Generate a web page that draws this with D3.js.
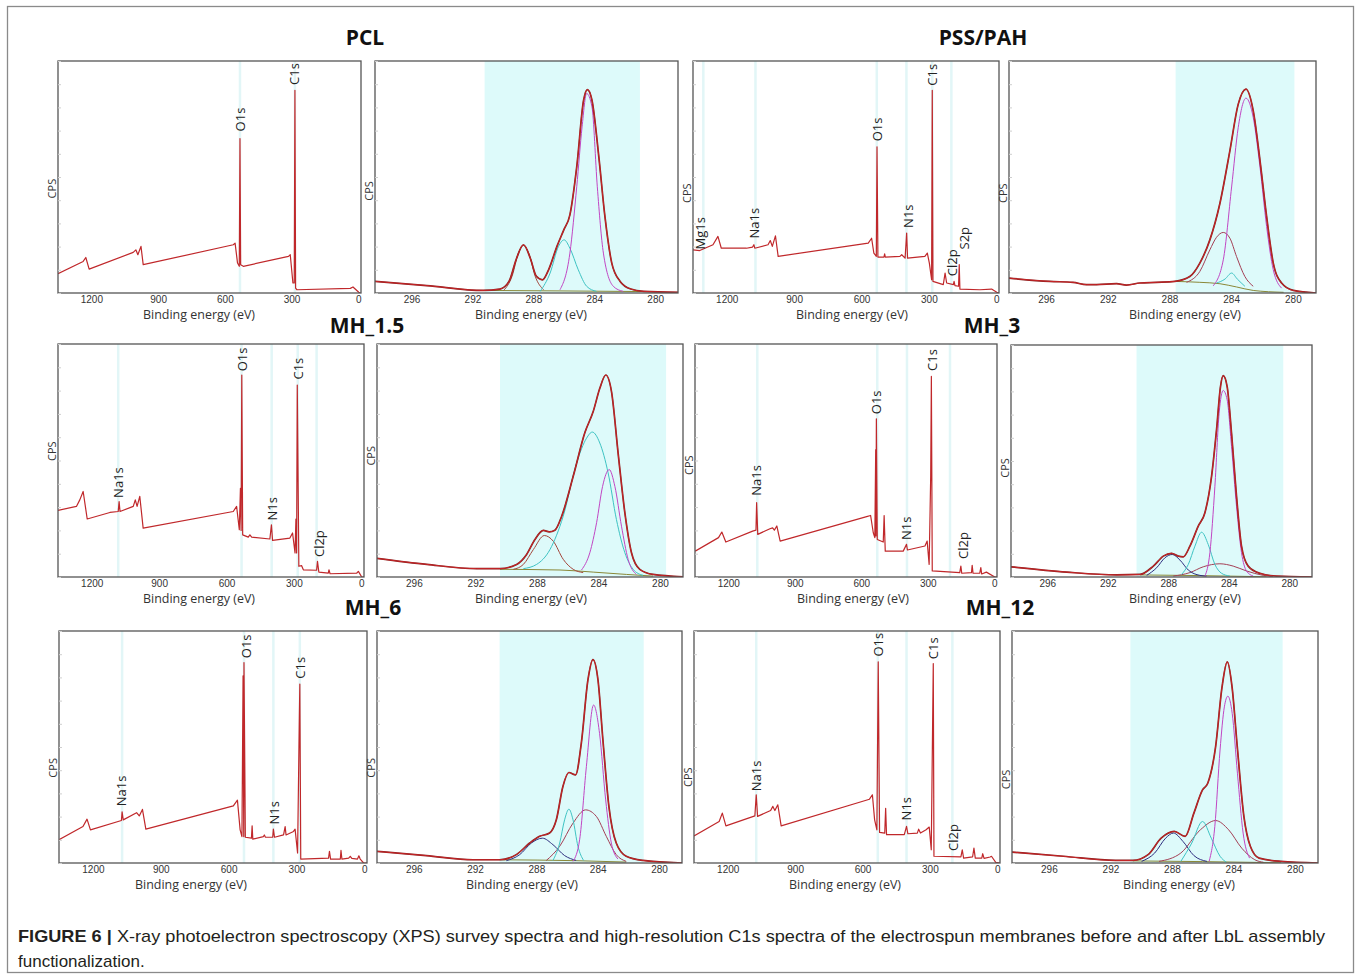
<!DOCTYPE html>
<html>
<head>
<meta charset="utf-8">
<script src="https://cdn.jsdelivr.net/npm/d3@7"></script>
<style>
  body { margin: 0; background: #fff; }
  svg { display: block; }
</style>
</head>
<body>
<div id="figure"></div>
<script>
// ---- data (x = binding energy in eV, y = CPS as % of panel height) ----
const sampleNames = ["PCL", "PSS/PAH", "MH_1.5", "MH_3", "MH_6", "MH_12"];
const surveyTicks = [1200, 900, 600, 300, 0];
const c1sTicks = [296, 292, 288, 284, 280];

// survey spectra
const surveyPCL = [[1350,8.3],[1237,13.6],[1225,15.3],[1210,10.3],[1012,17.5],[1000,18.6],[991,16.5],[977,20.1],[967,12.2],[562,20.8],[554,21.5],[543,12.9],[535,11.5],[532,66.6],[529,12.2],[517,11.5],[314,15.8],[306,16.5],[294,4.3],[288,4.3],[285,87.4],[282,2.1],[276,1.4],[36,2.0],[24,2.6],[-2,0.3],[-9,0]];
const surveyPSS = [[1350,18.6],[1320,18.3],[1261,20.8],[1239,24.4],[1224,19.3],[1112,19.3],[1085,19.8],[1079,20.8],[1075,19.3],[1016,20.8],[1006,22.6],[997,20.1],[983,24.6],[971,15.8],[570,21.5],[555,23.6],[545,17.2],[534,15.8],[531,63.0],[527,15.5],[500,15.5],[497,16.9],[494,15.5],[429,15.8],[421,16.5],[406,15.0],[399,25.8],[395,15.0],[318,15.8],[307,17.2],[298,12.9],[288,5.7],[285,87.4],[282,5.0],[236,3.6],[228,8.6],[221,4.3],[191,3.6],[188,5.0],[184,3.2],[168,2.9],[165,12.2],[162,1.7],[73,1.4],[21,1.7],[-2,0.3],[-12,0]];
const surveyMH15 = [[1350,28.6],[1268,30.3],[1253,33.1],[1238,36.7],[1220,24.9],[1119,27.7],[1082,28.1],[1078,32.4],[1074,28.1],[1015,30.3],[1006,33.1],[998,30.3],[986,34.6],[971,21.0],[570,28.1],[555,30.3],[543,20.3],[538,38.1],[535,20.0],[532,86.7],[528,18.1],[503,17.1],[496,18.1],[488,17.1],[407,16.3],[400,22.4],[395,15.7],[318,16.7],[306,18.9],[295,10.3],[291,24.9],[288,10.3],[285,82.4],[278,4.6],[266,4.9],[258,3.1],[199,2.9],[195,6.7],[189,2.1],[147,1.7],[144,3.1],[139,1.4],[20,1.7],[13,2.4],[-2,0],[-12,0]];
const surveyMH3 = [[1349,11.1],[1244,16.9],[1229,19.3],[1211,15.0],[1090,19.7],[1075,20.1],[1072,31.9],[1067,18.3],[1012,20.7],[1000,21.1],[992,20.1],[981,21.9],[966,15.4],[576,25.9],[558,26.4],[546,19.0],[539,16.9],[535,54.7],[534,17.6],[532,67.9],[528,16.1],[501,15.0],[497,26.4],[492,11.1],[411,11.1],[396,14.0],[392,11.6],[313,13.3],[303,15.4],[294,5.4],[287,43.3],[284,86.1],[280,2.6],[156,1.9],[151,4.7],[147,1.6],[103,1.9],[100,5.0],[96,1.6],[66,1.6],[61,4.0],[57,1.3],[36,2.1],[-2,0],[-12,0]];
const surveyMH6 = [[1350,10.0],[1244,15.7],[1226,18.9],[1211,14.3],[1074,18.3],[1071,22.1],[1066,18.6],[1007,21.7],[995,20.3],[981,23.1],[966,14.6],[579,24.6],[561,27.1],[549,14.3],[541,11.4],[536,80.7],[533,11.4],[532,86.4],[526,11.1],[499,10.7],[496,16.0],[493,10.3],[446,11.4],[442,12.1],[437,11.1],[405,11.1],[402,14.6],[397,11.1],[357,12.1],[350,15.7],[346,12.1],[313,13.6],[306,14.6],[295,4.3],[287,64.3],[285,77.1],[281,1.7],[158,2.1],[154,5.0],[149,1.7],[106,1.7],[103,5.4],[99,1.7],[69,2.1],[62,2.9],[55,2.0],[30,1.7],[24,3.1],[18,1.7],[3,0],[-12,0]];
const surveyMH12 = [[1350,11.7],[1238,17.9],[1224,21.5],[1208,16.0],[1079,20.3],[1073,29.4],[1067,20.1],[1009,22.6],[999,24.4],[990,22.6],[977,25.1],[962,16.0],[569,27.5],[556,29.4],[546,18.6],[536,14.3],[530,86.7],[524,13.2],[501,12.9],[497,23.6],[493,12.2],[414,12.2],[404,15.8],[398,12.6],[356,12.9],[350,14.6],[342,12.9],[317,14.3],[303,15.5],[294,5.7],[285,86.0],[282,2.9],[162,2.6],[156,5.7],[150,2.1],[110,2.6],[104,6.4],[98,2.1],[69,2.1],[65,4.0],[59,2.0],[32,2.6],[26,2.9],[7,0.3],[-12,0]];

// peak labels: [text, eV, y%]
const labelsPCL = [["O1s",532,68.8],["C1s",285,88.8]];
const labelsPSS = [["Mg1s",1317,17.9],["Na1s",1075,22.6],["O1s",530,64.5],["N1s",392,27.2],["C1s",283,88.5],["Cl2p",194,6.4],["S2p",144,17.9]];
const labelsMH15 = [["Na1s",1082,33.1],["O1s",530,87.4],["N1s",395,23.4],["C1s",281,83.9],["Cl2p",187,7.7]];
const labelsMH3 = [["Na1s",1075,34.0],["O1s",531,69.0],["N1s",396,15.0],["C1s",277,87.6],["Cl2p",141,6.9]];
const labelsMH6 = [["Na1s",1074,23.6],["O1s",523,87.4],["N1s",399,15.7],["C1s",281,78.6]];
const labelsMH12 = [["Na1s",1073,30.1],["O1s",530,88.1],["N1s",404,17.5],["C1s",284,87.0],["Cl2p",195,4.3]];

// element marker lines (eV)
const stripesPCL = [532, 285];
const stripesPSS = [1304, 1072, 532, 400, 285, 200];
const stripesMH15 = [1082, 533, 399, 283, 199];
const stripesMH3 = [1069, 528, 394, 200];
const stripesMH6 = [1071, 532, 402, 285];
const stripesMH12 = [1073, 532, 404, 200];

// C1s fit windows [from, to] eV
const fitWindows = [[291.2,281.0],[287.6,279.9],[290.4,279.6],[290.1,280.4],[290.4,281.0],[290.7,280.8]];

// C1s high resolution spectra
const c1sPCL_raw = [[298.4,5.0],[295.0,3.2],[291.3,1.1],[290.2,1.7],[289.6,5.0],[289.1,15.0],[288.65,20.8],[288.2,15.0],[287.8,7.2],[287.4,5.7],[287.0,10.0],[286.45,20.1],[286.0,27.2],[285.6,33.7],[285.15,54.4],[284.7,83.1],[284.45,87.7],[284.15,83.1],[283.7,58.7],[283.3,33.0],[282.85,12.9],[282.3,5.0],[281.6,1.7],[280.75,0.7],[278.5,0.3]];
const c1sPCL_cc = [[286.25,1.4],[285.6,17.2],[285.15,45.8],[284.8,71.6],[284.5,86.0],[284.15,80.2],[283.8,45.8],[283.4,17.2],[282.75,2.9],[282.1,0.7]];
const c1sPCL_co = [[287.55,0.7],[286.9,8.6],[286.35,20.1],[285.975,22.9],[285.6,19.3],[285.05,10.0],[284.5,2.9],[283.85,0.7]];
const c1sPCL_oco = [[289.95,1.1],[289.4,7.2],[288.98,17.2],[288.65,20.5],[288.3,17.2],[287.88,7.2],[287.33,1.4]];
const c1sPCL_bg = [[291.1,1.1],[286.25,0.9],[280.55,0.6]];

const c1sPSS_raw = [[298.4,6.4],[295.76,5.0],[294.25,4.6],[293.38,3.6],[292.73,3.6],[291.43,4.0],[290.79,3.4],[289.92,4.3],[288.84,4.6],[287.65,5.0],[286.68,7.1],[286.03,12.9],[285.38,22.9],[284.73,38.6],[284.08,61.4],[283.54,81.4],[283.04,87.9],[282.57,78.6],[282.13,57.1],[281.7,32.9],[281.27,12.9],[280.73,4.3],[279.97,1.1],[278.5,0]];
const c1sPSS_cc = [[285.16,3.1],[284.51,14.3],[283.97,45.7],[283.54,71.4],[283.04,84.0],[282.57,75.7],[282.13,54.3],[281.7,28.6],[281.27,10.0],[280.73,2.1]];
const c1sPSS_cn = [[286.89,4.6],[286.03,9.3],[285.38,18.6],[284.95,24.0],[284.51,26.1],[284.08,23.6],[283.65,15.7],[283.11,7.1],[282.57,2.9]];
const c1sPSS_co = [[284.95,4.3],[284.4,6.0],[283.97,8.6],[283.6,6.0],[283.11,2.9]];
const c1sPSS_bg = [[287.65,5.0],[286.03,4.6],[284.73,4.0],[283.65,2.6],[282.57,1.1],[280.6,0.3]];

const c1sMH15_raw = [[298.4,8.0],[295.16,5.4],[291.91,3.6],[290.4,3.6],[289.32,5.4],[288.67,9.7],[288.13,16.1],[287.58,20.0],[287.2,19.4],[286.83,20.1],[286.39,26.1],[285.64,43.2],[284.88,62.0],[284.34,71.0],[283.91,81.0],[283.52,86.7],[283.15,79.6],[282.72,53.2],[282.28,27.5],[281.85,10.4],[281.31,3.3],[280.45,1.1],[278.5,0.1]];
const c1sMH15_co = [[288.88,3.6],[288.02,5.4],[287.15,11.8],[286.29,26.1],[285.42,48.9],[284.77,59.6],[284.4,62.2],[283.91,57.5],[283.37,44.7],[282.83,24.7],[282.28,10.4],[281.74,3.3],[281.1,0.7]];
const c1sMH15_cc = [[285.1,3.0],[284.56,10.4],[284.12,23.3],[283.73,38.9],[283.3,46.1],[282.93,38.9],[282.5,21.8],[282.07,7.6],[281.53,1.1]];
const c1sMH15_oco = [[289.53,3.3],[288.88,5.4],[288.23,11.8],[287.52,17.8],[286.94,15.4],[286.29,7.6],[285.64,3.3],[284.99,1.9]];
const c1sMH15_bg = [[290.4,3.3],[286.5,3.0],[284.34,2.1],[282.18,1.1],[280.45,0.4]];

const c1sMH3_raw = [[298.4,4.4],[294.71,2.1],[291.41,0.9],[289.87,1.1],[288.99,4.7],[288.33,9.0],[287.78,10.2],[287.34,9.0],[287.01,8.7],[286.57,13.3],[286.02,21.9],[285.58,27.7],[285.14,43.4],[284.81,63.5],[284.55,82.1],[284.37,86.8],[284.11,82.1],[283.82,62.0],[283.49,34.8],[283.16,13.3],[282.72,4.7],[281.95,1.6],[280.85,0.4],[278.5,0]];
const c1sMH3_cc = [[285.58,0.4],[285.25,10.5],[284.92,39.1],[284.64,70.6],[284.37,80.4],[284.11,76.4],[283.82,56.3],[283.49,30.5],[283.16,10.5],[282.83,2.6],[282.39,0.4]];
const c1sMH3_co = [[287.12,1.1],[286.68,5.4],[286.24,13.3],[285.8,19.3],[285.36,14.0],[284.92,5.4],[284.48,1.6],[283.93,0.4]];
const c1sMH3_oco = [[289.43,0.7],[288.77,4.0],[288.22,8.3],[287.74,9.7],[287.23,7.3],[286.68,3.0],[285.91,0.7],[285.47,0.4]];
const c1sMH3_broad = [[287.67,0.4],[286.57,1.9],[285.69,4.4],[284.59,5.7],[283.71,4.7],[282.83,2.6],[281.73,0.7],[281.07,0.1]];
const c1sMH3_bg = [[289.87,0.9],[285.91,0.6],[281.51,0.1]];

const c1sMH6_raw = [[298.4,5.0],[295.18,3.2],[292.14,1.4],[290.4,1.4],[289.31,3.6],[288.44,8.6],[287.79,11.5],[287.14,12.9],[286.7,18.6],[286.27,33.0],[285.88,39.0],[285.44,38.0],[285.07,51.6],[284.64,78.8],[284.31,87.7],[283.98,78.8],[283.66,53.0],[283.27,24.4],[282.79,8.6],[282.14,2.9],[281.05,1.1],[278.5,0]];
const c1sMH6_cc = [[285.61,0.7],[285.18,10.0],[284.74,41.5],[284.27,68.1],[283.88,55.9],[283.48,27.2],[283.11,8.6],[282.68,1.7]];
const c1sMH6_broad = [[287.35,1.1],[286.48,7.2],[285.61,17.2],[284.79,22.9],[284.09,20.1],[283.44,11.5],[282.79,3.6],[282.14,0.7]];
const c1sMH6_co = [[286.92,1.1],[286.48,8.6],[286.16,18.6],[285.88,23.2],[285.61,18.6],[285.29,7.2],[284.92,1.1]];
const c1sMH6_oco = [[289.96,1.0],[289.09,3.6],[288.33,8.6],[287.61,10.7],[286.92,7.9],[286.16,3.2],[285.4,1.1]];
const c1sMH6_bg = [[290.4,1.4],[285.4,1.0],[282.14,0.4]];

const c1sMH12_raw = [[298.4,4.7],[295.07,2.9],[291.67,1.1],[290.54,1.1],[289.55,3.6],[288.7,10.7],[287.85,13.6],[287.14,11.5],[286.57,21.5],[286.01,31.5],[285.67,34.4],[285.16,50.1],[284.74,75.9],[284.4,86.7],[284.09,75.9],[283.75,50.1],[283.32,20.1],[282.9,7.2],[282.33,2.1],[280.92,0.7],[278.5,0]];
const c1sMH12_cc = [[285.58,0.7],[285.21,15.8],[284.87,48.7],[284.59,67.3],[284.36,71.9],[284.08,64.5],[283.74,38.7],[283.37,12.9],[282.95,2.1]];
const c1sMH12_broad = [[288.84,0.7],[287.42,4.3],[286.15,14.3],[285.16,18.3],[284.31,14.3],[283.46,6.4],[282.61,1.4],[282.04,0.3]];
const c1sMH12_co = [[287.42,0.7],[286.71,8.6],[286.01,17.9],[285.44,10.7],[284.87,2.9],[284.45,0.3]];
const c1sMH12_oco = [[289.97,0.7],[289.12,4.3],[288.41,10.7],[287.9,12.9],[287.28,9.3],[286.57,3.2],[285.72,0.7]];
const c1sMH12_bg = [[290.54,0.9],[286.0,0.6],[280.9,0.1]];

// ---- layout ----
const width = 1360, height = 978;
const col = {
  cc: "#c146c4", co: "#3ec3c3", oco: "#a4473c", broad: "#a43f55",
  navy: "#2f2f80", bg: "#8a8838", raw: "#d8262a", env: "#86201f",
  survey: "#c0282b", band: "#ddfafa", stripe: "#e2f6f7"
};

// [x0, x1, y0, y1] boxes for survey and C1s panels of each sample
const surveyBoxes = [[58,361,61,293],[693,999,61,293],[58,364,344,577],[695,997,344,577],[59,367,631,863],[694,1000,631,863]];
const c1sBoxes = [[375,678,61,293],[1009,1316,61,293],[377,683,344,577],[1011,1312,345,577],[377,682,631,863],[1012,1318,631,863]];
const titlePos = [[365,45],[983,45],[367,333],[992,333],[373,615],[1000,615]];
const surveyXLabel = [199, 852, 199, 853, 191, 845];
const c1sXLabel = [531, 1185, 531, 1185, 522, 1179];
const surveyCps = [0.55, 0.57, 0.46, 0.52, 0.59, 0.63];
const c1sCps = [0.56, 0.57, 0.48, 0.53, 0.59, 0.64];

const surveySets = [
  {data: surveyPCL, labels: labelsPCL, stripes: stripesPCL},
  {data: surveyPSS, labels: labelsPSS, stripes: stripesPSS},
  {data: surveyMH15, labels: labelsMH15, stripes: stripesMH15},
  {data: surveyMH3, labels: labelsMH3, stripes: stripesMH3},
  {data: surveyMH6, labels: labelsMH6, stripes: stripesMH6},
  {data: surveyMH12, labels: labelsMH12, stripes: stripesMH12}
];
const c1sSets = [
  {raw: c1sPCL_raw, bg: c1sPCL_bg, comps: [[c1sPCL_oco, col.oco], [c1sPCL_co, col.co], [c1sPCL_cc, col.cc]]},
  {raw: c1sPSS_raw, bg: c1sPSS_bg, comps: [[c1sPSS_cn, col.broad], [c1sPSS_co, col.co], [c1sPSS_cc, col.cc]]},
  {raw: c1sMH15_raw, bg: c1sMH15_bg, comps: [[c1sMH15_oco, col.oco], [c1sMH15_co, col.co], [c1sMH15_cc, col.cc]]},
  {raw: c1sMH3_raw, bg: c1sMH3_bg, comps: [[c1sMH3_broad, col.broad], [c1sMH3_oco, col.navy], [c1sMH3_co, col.co], [c1sMH3_cc, col.cc]]},
  {raw: c1sMH6_raw, bg: c1sMH6_bg, comps: [[c1sMH6_broad, col.broad], [c1sMH6_oco, col.navy], [c1sMH6_co, col.co], [c1sMH6_cc, col.cc]]},
  {raw: c1sMH12_raw, bg: c1sMH12_bg, comps: [[c1sMH12_broad, col.broad], [c1sMH12_oco, col.navy], [c1sMH12_co, col.co], [c1sMH12_cc, col.cc]]}
];

const svg = d3.select("#figure").append("svg")
  .attr("width", width)
  .attr("height", height);

svg.append("rect")
  .attr("width", width).attr("height", height)
  .attr("fill", "#fff");

// outer frame
svg.append("rect")
  .attr("x", 7.5).attr("y", 6.5)
  .attr("width", 1346).attr("height", 966)
  .attr("fill", "none")
  .attr("stroke", "#8a8a8a")
  .attr("stroke-width", 1.3);

const defs = svg.append("defs");

// box, minor ticks, bottom axis, axis labels
function drawFrame(g, x, y, b, ticks, labelX, cpsFrac) {
  g.append("rect")
    .attr("x", b[0]).attr("y", b[2])
    .attr("width", b[1] - b[0]).attr("height", b[3] - b[2])
    .attr("fill", "none")
    .attr("stroke", "#555")
    .attr("stroke-width", 1.3);

  g.append("g")
    .attr("transform", `translate(${b[0]},0)`)
    .call(d3.axisRight(y).ticks(12).tickSize(3).tickFormat(""))
    .call(s => s.select(".domain").remove())
    .selectAll("line").attr("stroke", "#cfcfcf");

  g.append("g")
    .attr("transform", `translate(0,${b[3]})`)
    .attr("font-family", "'Open Sans', sans-serif")
    .attr("font-size", 11.5)
    .call(d3.axisBottom(x).tickValues(ticks).tickSize(0).tickPadding(3).tickFormat(d3.format("d")))
    .call(s => s.select(".domain").remove())
    .selectAll("text").attr("fill", "#333");

  g.append("text")
    .attr("x", labelX)
    .attr("y", b[3] + 23)
    .attr("text-anchor", "middle")
    .attr("dominant-baseline", "middle")
    .attr("font-family", "'Open Sans', sans-serif")
    .attr("font-size", 13)
    .attr("textLength", 112)
    .attr("lengthAdjust", "spacingAndGlyphs")
    .attr("fill", "#333")
    .text("Binding energy (eV)");

  g.append("text")
    .attr("transform", `translate(${b[0] - 6},${b[2] + cpsFrac * (b[3] - b[2])}) rotate(-90)`)
    .attr("text-anchor", "middle")
    .attr("dy", "0.35em")
    .attr("font-family", "'Open Sans', sans-serif")
    .attr("font-size", 11)
    .attr("fill", "#333")
    .text("CPS");
}

function clipFor(id, b) {
  defs.append("clipPath").attr("id", id)
    .append("rect")
    .attr("x", b[0]).attr("y", b[2])
    .attr("width", b[1] - b[0]).attr("height", b[3] - b[2]);
  return `url(#${id})`;
}

// survey panels
surveySets.forEach((set, i) => {
  const b = surveyBoxes[i];
  const x = d3.scaleLinear().domain([1350, -12]).range([b[0], b[1]]);
  const y = d3.scaleLinear().domain([0, 100]).range([b[3], b[2]]);
  const g = svg.append("g");
  const clip = clipFor("clip-survey-" + i, b);

  g.selectAll(".stripe")
    .data(set.stripes)
    .join("rect")
    .attr("class", "stripe")
    .attr("x", d => x(d) - 1.25)
    .attr("y", b[2])
    .attr("width", 2.5)
    .attr("height", b[3] - b[2])
    .attr("fill", col.stripe);

  const line = d3.line()
    .x(d => x(d[0]))
    .y(d => y(d[1]));

  g.append("path")
    .datum(set.data)
    .attr("clip-path", clip)
    .attr("d", line)
    .attr("fill", "none")
    .attr("stroke", col.survey)
    .attr("stroke-width", 1.2)
    .attr("stroke-linejoin", "round");

  g.selectAll(".peak-label")
    .data(set.labels)
    .join("text")
    .attr("class", "peak-label")
    .attr("transform", d => `translate(${x(d[1])},${y(d[2]) - 2}) rotate(-90)`)
    .attr("dy", "0.35em")
    .attr("font-family", "'Open Sans', sans-serif")
    .attr("font-size", 13)
    .attr("fill", "#222")
    .text(d => d[0]);

  drawFrame(g, x, y, b, surveyTicks, surveyXLabel[i], surveyCps[i]);
});

// C1s panels
c1sSets.forEach((set, i) => {
  const b = c1sBoxes[i];
  const x = d3.scaleLinear().domain([298.4, 278.5]).range([b[0], b[1]]);
  const y = d3.scaleLinear().domain([0, 100]).range([b[3], b[2]]);
  const g = svg.append("g");
  const clip = clipFor("clip-c1s-" + i, b);
  const w = fitWindows[i];

  g.append("rect")
    .attr("x", x(w[0]))
    .attr("y", b[2])
    .attr("width", x(w[1]) - x(w[0]))
    .attr("height", b[3] - b[2])
    .attr("fill", col.band);

  const line = d3.line()
    .x(d => x(d[0]))
    .y(d => y(d[1]))
    .curve(d3.curveMonotoneX);

  const plot = g.append("g").attr("clip-path", clip);

  plot.append("path")
    .datum(set.bg)
    .attr("d", line)
    .attr("fill", "none")
    .attr("stroke", col.bg)
    .attr("stroke-width", 1);

  set.comps.forEach(c => {
    plot.append("path")
      .datum(c[0])
      .attr("d", line)
      .attr("fill", "none")
      .attr("stroke", c[1])
      .attr("stroke-width", 1);
  });

  plot.append("path")
    .datum(set.raw)
    .attr("d", line)
    .attr("fill", "none")
    .attr("stroke", col.env)
    .attr("stroke-width", 1.7);

  plot.append("path")
    .datum(set.raw)
    .attr("d", line)
    .attr("fill", "none")
    .attr("stroke", col.raw)
    .attr("stroke-width", 0.8);

  drawFrame(g, x, y, b, c1sTicks, c1sXLabel[i], c1sCps[i]);
});

// sample titles
svg.selectAll(".sample-title")
  .data(sampleNames)
  .join("text")
  .attr("class", "sample-title")
  .attr("x", (d, i) => titlePos[i][0])
  .attr("y", (d, i) => titlePos[i][1])
  .attr("text-anchor", "middle")
  .attr("font-family", "'Open Sans', sans-serif")
  .attr("font-weight", "bold")
  .attr("font-size", 21)
  .attr("fill", "#111")
  .text(d => d);

// caption
const caption = svg.append("text")
  .attr("x", 18)
  .attr("y", 942)
  .attr("font-family", "'Liberation Sans', Arial, sans-serif")
  .attr("font-size", 17)
  .attr("fill", "#231f20")
  .attr("textLength", 1307)
  .attr("lengthAdjust", "spacingAndGlyphs");
caption.append("tspan")
  .attr("font-weight", "bold")
  .text("FIGURE 6 |");
caption.append("tspan")
  .text(" X-ray photoelectron spectroscopy (XPS) survey spectra and high-resolution C1s spectra of the electrospun membranes before and after LbL assembly");

svg.append("text")
  .attr("x", 18)
  .attr("y", 967)
  .attr("font-family", "'Liberation Sans', Arial, sans-serif")
  .attr("font-size", 17)
  .attr("fill", "#231f20")
  .text("functionalization.");
</script>
</body>
</html>
